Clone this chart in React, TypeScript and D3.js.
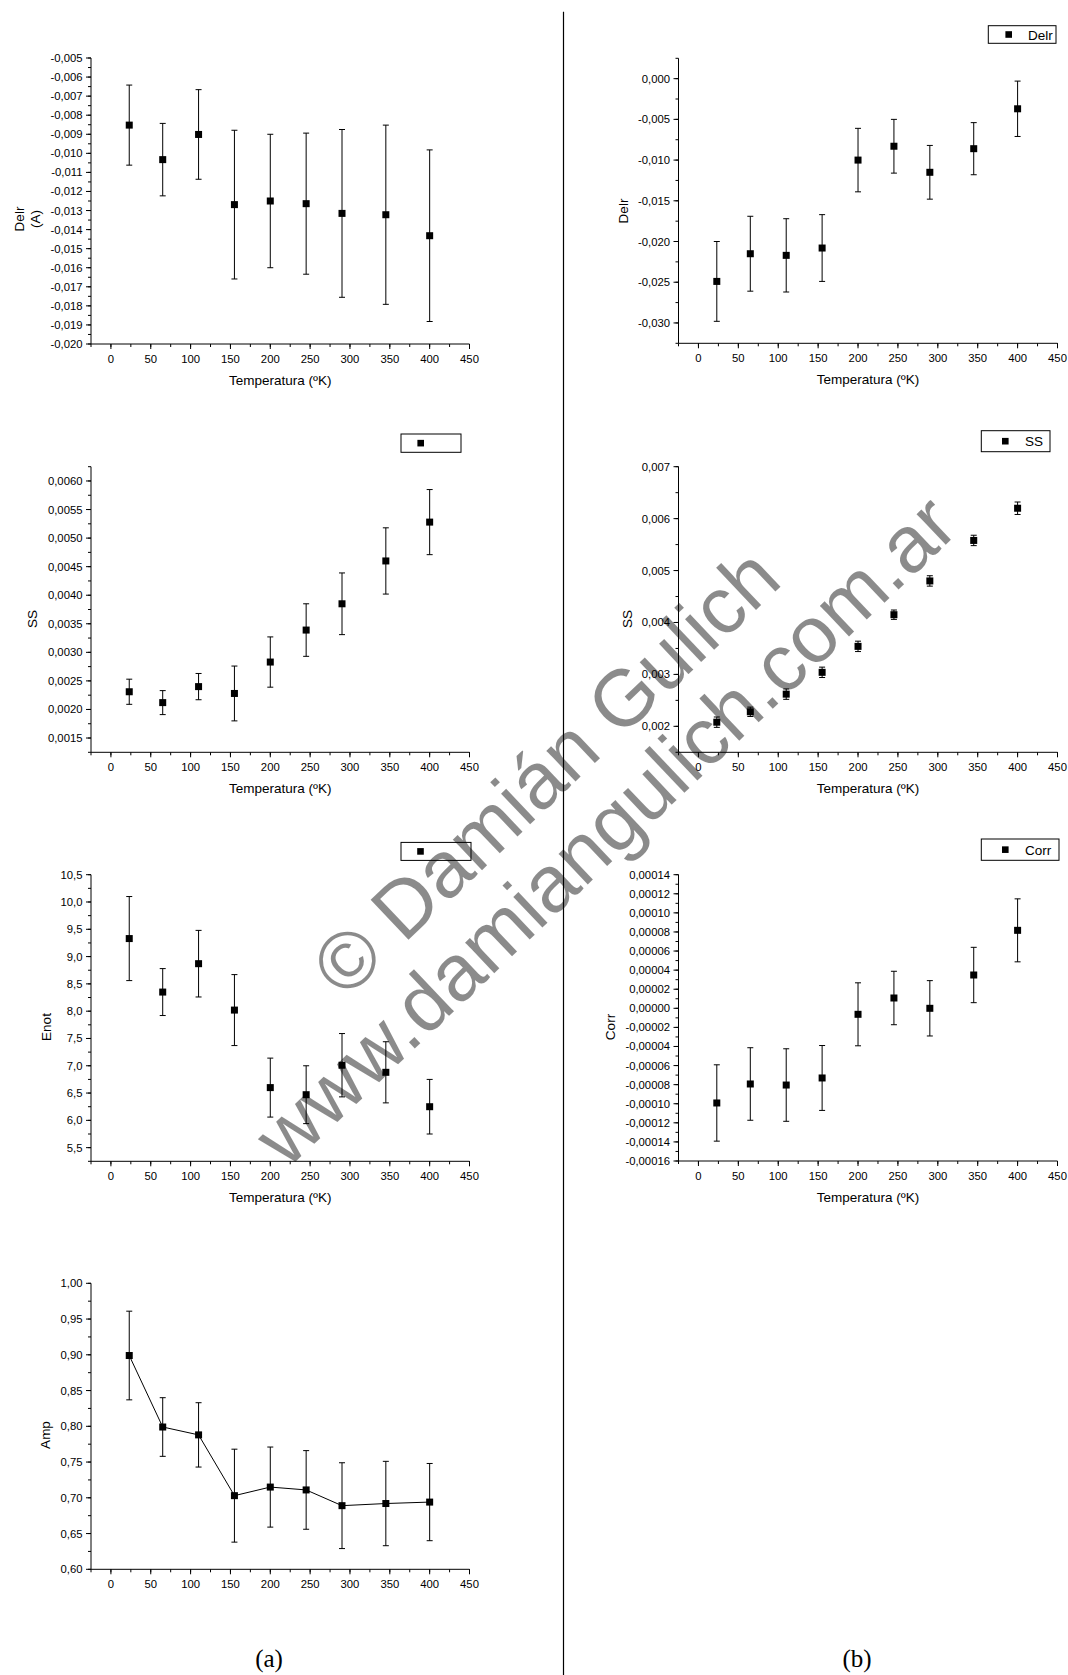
import * as d3 from 'd3';

// temperatures (ºK) shared by all panels
const temps = [23, 65, 110, 155, 200, 245, 290, 345, 400];

// column (a)
const delrA = [-0.00852, -0.01033, -0.00901, -0.01269, -0.0125, -0.01264, -0.01315, -0.01322, -0.01432];
const delrAErr = [0.0021, 0.0019, 0.00235, 0.0039, 0.0035, 0.0037, 0.0044, 0.0047, 0.0045];
const ssA = [0.00231, 0.00212, 0.0024, 0.00228, 0.00283, 0.00339, 0.00385, 0.0046, 0.00528];
const ssAErr = [0.00022, 0.00021, 0.00023, 0.00048, 0.00044, 0.00046, 0.00054, 0.00058, 0.00057];
const enotA = [9.33, 8.35, 8.87, 8.02, 6.6, 6.47, 7.01, 6.88, 6.25];
const enotAErr = [0.77, 0.43, 0.61, 0.65, 0.54, 0.53, 0.58, 0.56, 0.5];
const ampA = [0.899, 0.799, 0.788, 0.703, 0.715, 0.711, 0.689, 0.692, 0.694];
const ampAErr = [0.062, 0.041, 0.045, 0.065, 0.056, 0.055, 0.06, 0.059, 0.054];

// column (b)
const delrB = [-0.0249, -0.0215, -0.0217, -0.0208, -0.01, -0.0083, -0.0115, -0.0086, -0.0037];
const delrBErr = [0.0049, 0.0046, 0.0045, 0.0041, 0.0039, 0.0033, 0.0033, 0.0032, 0.0034];
const ssB = [0.00208, 0.00228, 0.00262, 0.00304, 0.00354, 0.00415, 0.0048, 0.00558, 0.0062];
const ssBErr = [0.0001, 0.00009, 0.0001, 0.0001, 0.0001, 0.00009, 0.0001, 0.0001, 0.00012];
const corrB = [-0.0000992, -0.0000793, -0.0000804, -0.000073, -0.0000063, 0.0000108, 0, 0.0000349, 0.0000817];
const corrBErr = [0.00004, 0.000038, 0.000038, 0.000034, 0.000033, 0.000028, 0.000029, 0.000029, 0.000033];

// x axis
const xDomain: [number, number] = [-25, 450];
const xStep = 50;
const xMinorStep = 25;

const FONT = "'Liberation Sans', Arial, sans-serif";

// multiples of step lying inside [a, b]
const steps = (a: number, b: number, s: number) =>
    d3.range(Math.ceil(a / s - 1e-6), Math.floor(b / s + 1e-6) + 1).map(k => +(k * s).toPrecision(10));

const fmt = (v: number, d: number) => (Math.abs(v) < 1e-12 ? 0 : v).toFixed(d).replace('.', ',');

interface Legend {
    x: number, y: number, w: number, h: number
    mx: number
    text?: string
    tx?: number
}

interface PanelProps {
    left: number
    right: number
    top: number
    bottom: number
    values: number[]
    errors: number[]
    yDomain: [number, number]
    yStep: number
    yMinorStep: number
    majorFrom: number
    decimals: number
    yTitle: string[]
    titleX: number[]
    titleY: number
    legend?: Legend
    xTitle?: boolean
    connect?: boolean
}

const Panel = (p: PanelProps) => {
    const x = d3.scaleLinear().domain(xDomain).range([p.left, p.right]);
    const y = d3.scaleLinear().domain(p.yDomain).range([p.bottom, p.top]);

    const yMajor = steps(p.majorFrom, p.yDomain[1], p.yStep);
    const yMinor = steps(p.yDomain[0], p.yDomain[1], p.yMinorStep);
    const xMajor = steps(0, xDomain[1], xStep);
    const xMinor = steps(xDomain[0], xDomain[1], xMinorStep);

    const pts = temps.map((t, i) => ({t, v: p.values[i], e: p.errors[i]}));
    const line = d3.line<{t: number, v: number}>().x(d => x(d.t)).y(d => y(d.v));

    return (
        <g fontFamily={FONT}>
            {/* axes */}
            <line x1={p.left} x2={p.left} y1={p.top} y2={p.bottom} stroke="#000" />
            <line x1={p.left} x2={p.right} y1={p.bottom} y2={p.bottom} stroke="#000" />
            {yMinor.map((v, i) => (
                <line key={'ym' + i} x1={p.left - 3} x2={p.left} y1={y(v)} y2={y(v)} stroke="#000" />
            ))}
            {yMajor.map((v, i) => (
                <g key={'yM' + i}>
                    <line x1={p.left - 5} x2={p.left} y1={y(v)} y2={y(v)} stroke="#000" />
                    <text x={p.left - 8.5} y={y(v) + 4} fontSize={11.3} textAnchor="end">{fmt(v, p.decimals)}</text>
                </g>
            ))}
            {xMinor.map((v, i) => (
                <line key={'xm' + i} x1={x(v)} x2={x(v)} y1={p.bottom} y2={p.bottom + 3} stroke="#000" />
            ))}
            {xMajor.map((v, i) => (
                <g key={'xM' + i}>
                    <line x1={x(v)} x2={x(v)} y1={p.bottom} y2={p.bottom + 5} stroke="#000" />
                    <text x={x(v)} y={p.bottom + 19} fontSize={11.3} textAnchor="middle">{v}</text>
                </g>
            ))}
            {p.xTitle && (
                <text x={(p.left + p.right) / 2} y={p.bottom + 41} fontSize={13.5} textAnchor="middle">Temperatura (ºK)</text>
            )}
            {p.yTitle.map((s, i) => (
                <text key={'t' + i} transform={`translate(${p.titleX[i]},${p.titleY}) rotate(-90)`} fontSize={13.5} textAnchor="middle">{s}</text>
            ))}

            {/* data */}
            {p.connect && <path d={line(pts) ?? ''} fill="none" stroke="#000" strokeWidth={1} />}
            {pts.map((d, i) => (
                <g key={'p' + i} stroke="#000" strokeWidth={1}>
                    <line x1={x(d.t)} x2={x(d.t)} y1={y(d.v - d.e)} y2={y(d.v + d.e)} />
                    <line x1={x(d.t) - 3} x2={x(d.t) + 3} y1={y(d.v + d.e)} y2={y(d.v + d.e)} />
                    <line x1={x(d.t) - 3} x2={x(d.t) + 3} y1={y(d.v - d.e)} y2={y(d.v - d.e)} />
                </g>
            ))}
            {pts.map((d, i) => (
                <rect key={'m' + i} x={x(d.t) - 3.5} y={y(d.v) - 3.5} width={7} height={7} fill="#000" />
            ))}

            {p.legend && (
                <g>
                    <rect x={p.legend.x} y={p.legend.y} width={p.legend.w} height={p.legend.h} fill="#fff" stroke="#000" />
                    <rect x={p.legend.mx - 3.3} y={p.legend.y + p.legend.h / 2 - 3.3} width={6.6} height={6.6} fill="#000" />
                    {p.legend.text && (
                        <text x={p.legend.tx} y={p.legend.y + p.legend.h / 2 + 5} fontSize={13.5}>{p.legend.text}</text>
                    )}
                </g>
            )}
        </g>
    );
};

const LEFT = [91, 469.5];
const RIGHT = [678.5, 1057.5];

const App = () => {
    return (
        <svg width={1068} height={1675} style={{position: 'absolute', left: 0, top: 0, background: '#fff'}}>
            <rect width={1068} height={1675} fill="#fff" />

            <Panel left={LEFT[0]} right={LEFT[1]} top={58} bottom={344}
                values={delrA} errors={delrAErr} yDomain={[-0.02, -0.005]} yStep={0.001} yMinorStep={0.0005}
                majorFrom={-0.02} decimals={3} yTitle={['Delr', '(A)']} titleX={[24, 40]} titleY={219} xTitle />

            <Panel left={RIGHT[0]} right={RIGHT[1]} top={58.3} bottom={343.3}
                values={delrB} errors={delrBErr} yDomain={[-0.0325, 0.0025]} yStep={0.005} yMinorStep={0.0025}
                majorFrom={-0.03} decimals={3} yTitle={['Delr']} titleX={[628]} titleY={211} xTitle
                legend={{x: 988.3, y: 25.7, w: 67.7, h: 17.6, mx: 1008.7, text: 'Delr', tx: 1028}} />

            <Panel left={LEFT[0]} right={LEFT[1]} top={466.7} bottom={752.3}
                values={ssA} errors={ssAErr} yDomain={[0.00125, 0.00625]} yStep={0.0005} yMinorStep={0.00025}
                majorFrom={0.0015} decimals={4} yTitle={['SS']} titleX={[37]} titleY={619} xTitle
                legend={{x: 401, y: 434, w: 60, h: 18.3, mx: 420.7}} />

            <Panel left={RIGHT[0]} right={RIGHT[1]} top={466.7} bottom={752.3}
                values={ssB} errors={ssBErr} yDomain={[0.0015, 0.007]} yStep={0.001} yMinorStep={0.0005}
                majorFrom={0.002} decimals={3} yTitle={['SS']} titleX={[631.7]} titleY={619} xTitle
                legend={{x: 981.3, y: 430.7, w: 68.7, h: 21, mx: 1005.3, text: 'SS', tx: 1025}} />

            <Panel left={LEFT[0]} right={LEFT[1]} top={874.7} bottom={1161.3}
                values={enotA} errors={enotAErr} yDomain={[5.25, 10.5]} yStep={0.5} yMinorStep={0.25}
                majorFrom={5.5} decimals={1} yTitle={['Enot']} titleX={[50.7]} titleY={1027} xTitle
                legend={{x: 401, y: 842.4, w: 70, h: 18, mx: 420.5}} />

            <Panel left={RIGHT[0]} right={RIGHT[1]} top={874.7} bottom={1161}
                values={corrB} errors={corrBErr} yDomain={[-0.00016, 0.00014]} yStep={0.00002} yMinorStep={0.00001}
                majorFrom={-0.00016} decimals={5} yTitle={['Corr']} titleX={[615]} titleY={1027} xTitle
                legend={{x: 981.3, y: 839, w: 77.7, h: 21.3, mx: 1005.3, text: 'Corr', tx: 1025}} />

            <Panel left={LEFT[0]} right={LEFT[1]} top={1283.3} bottom={1569.3}
                values={ampA} errors={ampAErr} yDomain={[0.6, 1.0]} yStep={0.05} yMinorStep={0.025}
                majorFrom={0.6} decimals={2} yTitle={['Amp']} titleX={[49.7]} titleY={1435} connect />

            {/* divider between the two columns */}
            <line x1={563.5} x2={563.5} y1={11.7} y2={1675} stroke="#000" strokeWidth={1.2} />

            <text x={269} y={1667} fontFamily="'Liberation Serif', 'DejaVu Serif', serif" fontSize={25} textAnchor="middle">(a)</text>
            <text x={857} y={1667} fontFamily="'Liberation Serif', 'DejaVu Serif', serif" fontSize={25} textAnchor="middle">(b)</text>

            {/* watermark */}
            <g fontFamily={FONT} fontSize={80} fill="#000" opacity={0.45} textAnchor="middle">
                <text transform="translate(564.6,791.7) rotate(-43.5)">© Damián Gulich</text>
                <text transform="translate(624,850) rotate(-43.5)">www.damiangulich.com.ar</text>
            </g>
        </svg>
    );
};

export default App;
